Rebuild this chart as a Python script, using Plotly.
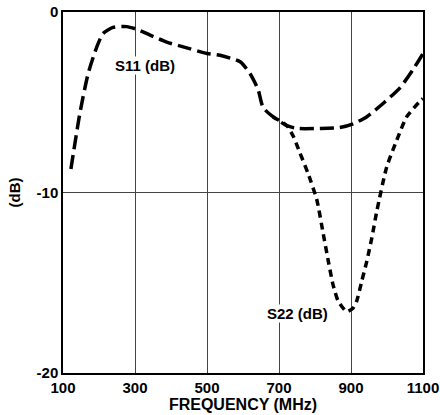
import plotly.graph_objects as go

# S11 (dB) curve
s11_freq = [122, 147, 170, 194, 211, 239, 277, 305, 342, 388, 434, 500, 536, 592, 619, 642, 656, 683, 722, 750, 814, 869, 906, 944, 989, 1036, 1072, 1100]
s11_db = [-8.7, -5.6, -3.4, -1.93, -1.2, -0.85, -0.81, -0.96, -1.28, -1.67, -1.93, -2.3, -2.4, -2.76, -3.4, -4.3, -5.3, -5.8, -6.3, -6.45, -6.45, -6.4, -6.2, -5.8, -5.07, -4.2, -3.2, -2.3]

# S22 (dB) curve
s22_freq = [683, 722, 740, 758, 781, 805, 823, 837, 850, 864, 888, 906, 916, 930, 944, 958, 972, 999, 1027, 1055, 1089, 1100]
s22_db = [-5.8, -6.3, -6.9, -7.8, -8.96, -10.4, -12.3, -13.8, -15.1, -16.0, -16.6, -16.4, -16.0, -14.9, -13.8, -12.5, -11.0, -8.6, -7.1, -5.8, -5.0, -4.8]

x_ticks = [100, 300, 500, 700, 900, 1100]
y_ticks = [0, -10, -20]

font = dict(family="Liberation Sans, Arial, sans-serif", size=15, color="black")
title_font = dict(family="Liberation Sans, Arial, sans-serif", size=16, color="black")

fig = go.Figure()
fig.add_trace(go.Scatter(x=s11_freq, y=s11_db, mode="lines", line=dict(color="black", width=3.5, dash="14px,6px", shape="spline", smoothing=0.6)))
fig.add_trace(go.Scatter(x=s22_freq, y=s22_db, mode="lines", line=dict(color="black", width=3.5, dash="7px,5px", shape="spline", smoothing=0.6)))

fig.add_annotation(x=328, y=-2.94, text="<b>S11 (dB)</b>", showarrow=False, bgcolor="white", font=font, borderpad=0)
fig.add_annotation(x=750, y=-16.7, text="<b>S22 (dB)</b>", showarrow=False, bgcolor="white", font=font, borderpad=0)

fig.update_layout(
    width=440, height=415,
    margin=dict(l=63, r=17, t=12, b=42),
    paper_bgcolor="white", plot_bgcolor="white",
    showlegend=False,
    font=font,
)
fig.update_xaxes(range=[100, 1100], tickvals=x_ticks, ticktext=[f"<b>{v}</b>" for v in x_ticks],
                 showgrid=True, gridcolor="#444", gridwidth=1, zeroline=False, automargin=False,
                 showline=True, linecolor="black", linewidth=1.5, mirror=True, ticks="",
                 title=dict(text="<b>FREQUENCY (MHz)</b>", standoff=0, font=title_font))
fig.update_yaxes(range=[-20, 0], tickvals=y_ticks, ticktext=[f"<b>{v}</b>" for v in y_ticks],
                 showgrid=True, gridcolor="#444", gridwidth=1, zeroline=False, automargin=False,
                 showline=True, linecolor="black", linewidth=1.5, mirror=True, ticks="",
                 title=dict(text="<b>(dB)</b>", standoff=12, font=font))

fig.write_html("out.html")
